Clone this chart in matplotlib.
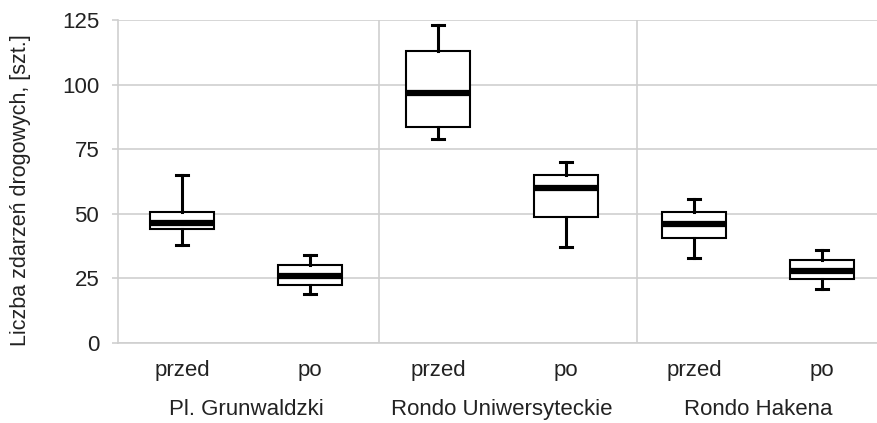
import matplotlib
matplotlib.use("Agg")
import matplotlib.pyplot as plt

plt.rcParams['font.family'] = ['Liberation Sans', 'DejaVu Sans']

groups = ["Pl. Grunwaldzki", "Rondo Uniwersyteckie", "Rondo Hakena"]
sub_labels = ["przed", "po", "przed", "po", "przed", "po"]

# wartosci: min, Q1, mediana, Q3, max
w_min = [38, 19, 79, 37, 33, 21]
q1 = [44, 22.4, 83.5, 48.8, 40.5, 24.7]
med = [46.6, 26, 96.7, 60.1, 46.2, 28]
q3 = [50.7, 30, 113, 65, 50.6, 32.2]
w_max = [65, 34, 123, 70, 55.8, 36]

stats = []
for i in range(len(sub_labels)):
    stats.append({"whislo": w_min[i], "q1": q1[i], "med": med[i],
                  "q3": q3[i], "whishi": w_max[i], "fliers": []})

fig = plt.figure(figsize=(8.77, 4.23), dpi=100)
ax = fig.add_axes([0.1345, 0.1891, 0.8655, 0.7636])

grid_c = "#cfcfcf"
txt_c = "#222222"
pos = list(range(len(sub_labels)))

ax.bxp(stats, positions=pos, widths=0.5, showfliers=False, patch_artist=True,
       boxprops=dict(facecolor="white", edgecolor="black", linewidth=1.5),
       medianprops=dict(color="black", linewidth=4.5, solid_capstyle="butt"),
       whiskerprops=dict(color="black", linewidth=2.2),
       capprops=dict(color="black", linewidth=2.2),
       capwidths=0.1, zorder=3)

ax.set_ylim(0, 125)
ax.set_xlim(-0.5, 5.43)
ax.set_yticks([0, 25, 50, 75, 100, 125])
ax.yaxis.grid(True, color=grid_c, linewidth=1.2, zorder=0)
ax.set_axisbelow(True)

for sep in [1.54, 3.555]:
    ax.axvline(sep, color=grid_c, linewidth=1.2, zorder=1)

for s in ["top", "right"]:
    ax.spines[s].set_visible(False)
ax.spines["left"].set_color(grid_c)
ax.spines["bottom"].set_color(grid_c)
ax.spines["left"].set_linewidth(1.2)
ax.spines["bottom"].set_linewidth(1.2)

ax.tick_params(axis="y", colors=grid_c, length=4.5, width=1.2, labelcolor=txt_c,
               labelsize=16, pad=9)
ax.tick_params(axis="x", length=0, labelcolor=txt_c, labelsize=16, pad=12.5)
ax.set_xticks(pos)
ax.set_xticklabels(sub_labels)

for g, name in enumerate(groups):
    ax.text(2 * g + 0.5, -0.207, name, transform=ax.get_xaxis_transform(),
            ha="center", va="center", fontsize=16, color=txt_c)

ax.set_ylabel("Liczba zdarzeń drogowych, [szt.]", fontsize=15.5, color=txt_c)
ax.yaxis.set_label_coords(-0.114, 0.474)

fig.savefig("out.png", dpi=100)
